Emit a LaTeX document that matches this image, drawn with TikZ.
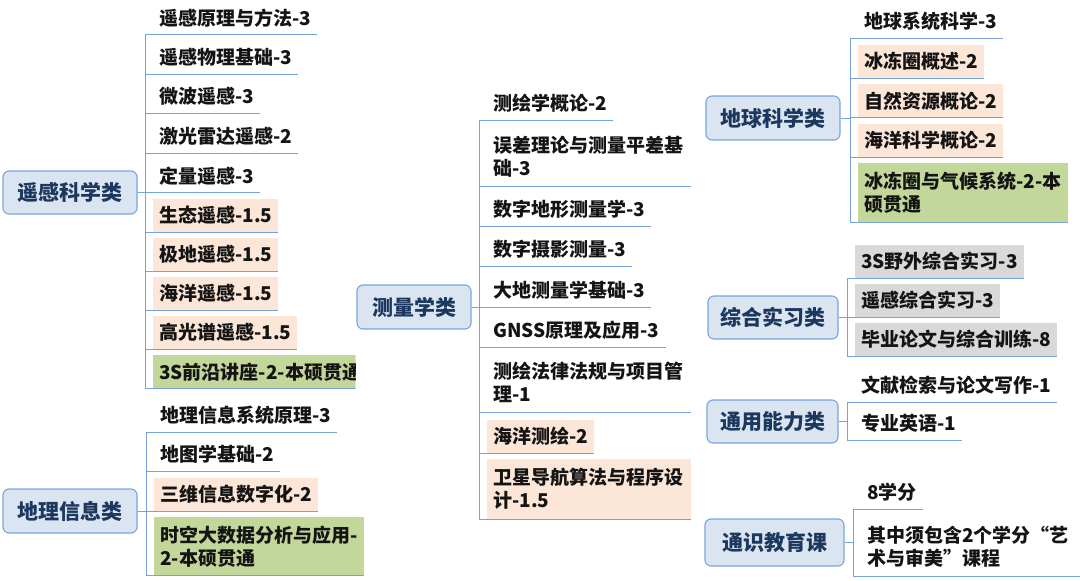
\documentclass[tikz,border=0pt]{standalone}
\usepackage{fontspec}
\setmainfont{Noto Sans CJK SC}
\definecolor{linec}{RGB}{118,163,220}
\definecolor{rootline}{RGB}{120,165,222}
\definecolor{rootfill}{RGB}{219,229,242}
\definecolor{roottext}{RGB}{28,56,94}
\definecolor{leaftext}{RGB}{20,20,20}
\definecolor{orangef}{RGB}{252,230,216}
\definecolor{greenf}{RGB}{196,215,155}
\definecolor{grayf}{RGB}{217,217,217}
\begin{document}
\begin{tikzpicture}[x=1pt,y=-1pt,
  root/.style={draw=rootline,fill=rootfill,rounded corners=6pt,line width=1.1pt,
    inner sep=0pt,font=\fontsize{21}{25}\selectfont\bfseries,text=roottext},
  leaf/.style={anchor=south west,inner xsep=6pt,inner ysep=0pt,minimum height=33pt,
    font=\fontsize{19}{23}\selectfont\bfseries,text=leaftext,align=left},
  two/.style={minimum height=58pt},
  orange/.style={fill=orangef},
  green/.style={fill=greenf},
  gray/.style={fill=grayf},
  link/.style={draw=linec,line width=1pt}]
\useasboundingbox (0,0) rectangle (1080,581);

% ---------- group 1: 遥感科学类
\coordinate (g1) at (145,0);
\node[root,minimum width=134pt,minimum height=43pt] (r1) at (70,192.5) {遥感科学类};
\node[leaf] (g1a) at (153,34.5) {遥感原理与方法-3};
\node[leaf] (g1b) at (153,74) {遥感物理基础-3};
\node[leaf] (g1c) at (153,113) {微波遥感-3};
\node[leaf] (g1d) at (153,153) {激光雷达遥感-2};
\node[leaf] (g1e) at (153,192.5) {定量遥感-3};
\node[leaf,orange] (g1f) at (153,232) {生态遥感-1.5};
\node[leaf,orange] (g1g) at (153,271) {极地遥感-1.5};
\node[leaf,orange] (g1h) at (153,310) {海洋遥感-1.5};
\node[leaf,orange] (g1i) at (153,349) {高光谱遥感-1.5};
\begin{scope}
  \clip (0,340) rectangle (355.5,400);
  \node[leaf,green] (g1j) at (153,388.5) {3S前沿讲座-2-本硕贯通};
  \draw[link] (g1j.south west -| g1) -- (g1j.south east);
\end{scope}
\foreach \n in {a,b,c,d,e,f,g,h,i}
  \draw[link] (g1\n.south west -| g1) -- (g1\n.south east);
\draw[link] (g1a.south west -| g1) -- (g1j.south west -| g1);
\draw[link] (r1.east) -- (r1.east -| g1);

% ---------- group 2: 地理信息类
\coordinate (g2) at (146,0);
\node[root,minimum width=134pt,minimum height=44pt] (r2) at (70,511) {地理信息类};
\node[leaf] (g2a) at (154,432) {地理信息系统原理-3};
\node[leaf] (g2b) at (154,471) {地图学基础-2};
\node[leaf,orange] (g2c) at (154,511) {三维信息数字化-2};
\node[leaf,green,two,text width=198pt] (g2d) at (154,575.5) {时空大数据分析与应用-\\2-本硕贯通};
\foreach \n in {a,b,c,d}
  \draw[link] (g2\n.south west -| g2) -- (g2\n.south east);
\draw[link] (g2a.south west -| g2) -- (g2d.south west -| g2);
\draw[link] (r2.east) -- (r2.east -| g2);

% ---------- group 3: 测量学类
\coordinate (g3) at (479,0);
\node[root,minimum width=114pt,minimum height=44pt] (r3) at (414,307) {测量学类};
\node[leaf] (g3a) at (487,120) {测绘学概论-2};
\node[leaf,two,text width=192pt] (g3b) at (487,186) {误差理论与测量平差基\\础-3};
\node[leaf] (g3c) at (487,226) {数字地形测量学-3};
\node[leaf] (g3d) at (487,266) {数字摄影测量-3};
\node[leaf] (g3e) at (487,307) {大地测量学基础-3};
\node[leaf] (g3f) at (487,347) {GNSS原理及应用-3};
\node[leaf,two,text width=192pt] (g3g) at (487,412) {测绘法律法规与项目管\\理-1};
\node[leaf,orange] (g3h) at (487,453) {海洋测绘-2};
\node[leaf,orange,two,minimum height=60pt,text width=192pt] (g3i) at (487,519) {卫星导航算法与程序设\\计-1.5};
\foreach \n in {a,b,c,d,e,f,g,h,i}
  \draw[link] (g3\n.south west -| g3) -- (g3\n.south east);
\draw[link] (g3a.south west -| g3) -- (g3i.south west -| g3);
\draw[link] (r3.east) -- (r3.east -| g3);

% ---------- group 4: 地球科学类
\coordinate (g4) at (850,0);
\node[root,minimum width=134pt,minimum height=44pt] (r4) at (773,118) {地球科学类};
\node[leaf] (g4a) at (858,38) {地球系统科学-3};
\node[leaf,orange] (g4b) at (858,78) {冰冻圈概述-2};
\node[leaf,orange] (g4c) at (858,117.5) {自然资源概论-2};
\node[leaf,orange] (g4d) at (858,157) {海洋科学概论-2};
\node[leaf,green,two,minimum height=59pt,text width=198pt] (g4e) at (858,222) {冰冻圈与气候系统-2-本\\硕贯通};
\foreach \n in {a,b,c,d,e}
  \draw[link] (g4\n.south west -| g4) -- (g4\n.south east);
\draw[link] (g4a.south west -| g4) -- (g4e.south west -| g4);
\draw[link] (r4.east) -- (r4.east -| g4);

% ---------- group 5: 综合实习类
\coordinate (g5) at (847,0);
\node[root,minimum width=130pt,minimum height=43pt] (r5) at (773,317.5) {综合实习类};
\node[leaf,gray] (g5a) at (855,278) {3S野外综合实习-3};
\node[leaf,gray] (g5b) at (855,317) {遥感综合实习-3};
\node[leaf,gray] (g5c) at (855,356) {毕业论文与综合训练-8};
\foreach \n in {a,b,c}
  \draw[link] (g5\n.south west -| g5) -- (g5\n.south east);
\draw[link] (g5a.south west -| g5) -- (g5c.south west -| g5);
\draw[link] (r5.east) -- (r5.east -| g5);

% ---------- group 6: 通用能力类
\coordinate (g6) at (847,0);
\node[root,minimum width=131pt,minimum height=43pt] (r6) at (772.5,421.5) {通用能力类};
\node[leaf] (g6a) at (855,402) {文献检索与论文写作-1};
\node[leaf] (g6b) at (855,440) {专业英语-1};
\foreach \n in {a,b}
  \draw[link] (g6\n.south west -| g6) -- (g6\n.south east);
\draw[link] (g6a.south west -| g6) -- (g6b.south west -| g6);
\draw[link] (r6.east) -- (r6.east -| g6);

% ---------- group 7: 通识教育课
\coordinate (g7) at (853,0);
\node[root,minimum width=139pt,minimum height=47pt] (r7) at (774.5,542.5) {通识教育课};
\node[leaf] (g7a) at (861,509) {8学分};
\node[leaf,two,text width=213pt] (g7b) at (861,576) {其中须包含2个学分“艺\\术与审美”课程};
\foreach \n in {a,b}
  \draw[link] (g7\n.south west -| g7) -- (g7\n.south east);
\draw[link] (g7a.south west -| g7) -- (g7b.south west -| g7);
\draw[link] (r7.east) -- (r7.east -| g7);
\end{tikzpicture}
\end{document}
